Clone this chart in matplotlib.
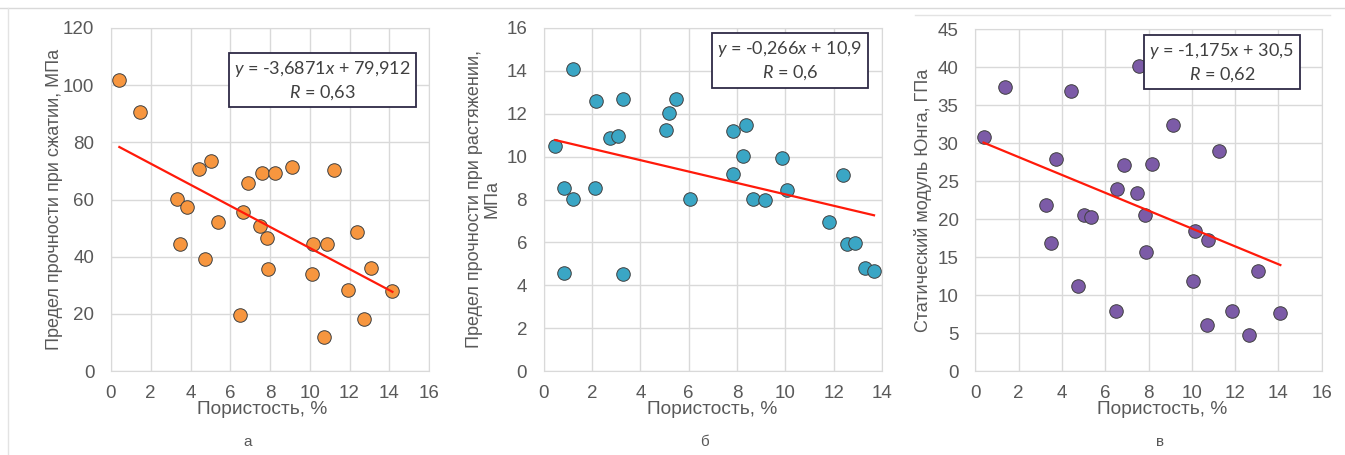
import matplotlib.pyplot as plt
from matplotlib.lines import Line2D
import numpy as np

plt.rcParams['font.family'] = ['Liberation Sans', 'DejaVu Sans']
plt.rcParams['mathtext.fontset'] = 'custom'
plt.rcParams['mathtext.rm'] = 'Lato'
plt.rcParams['mathtext.it'] = 'Lato:italic'

# panel a - compressive strength
x_a = [0.42, 1.46, 3.34, 3.49, 3.84, 4.43, 4.71, 5.05, 5.40, 6.49, 6.64, 6.91, 7.48, 7.60,
       7.84, 7.92, 8.24, 9.11, 10.10, 10.17, 10.74, 10.86, 11.22, 11.91, 12.40, 12.75, 13.10, 14.16]
y_a = [101.8, 90.5, 60.1, 44.4, 57.5, 70.7, 39.2, 73.4, 52.1, 19.7, 55.8, 65.6, 50.9, 69.1,
       46.6, 35.6, 69.1, 71.2, 34.0, 44.4, 12.0, 44.4, 70.2, 28.4, 48.6, 18.1, 36.0, 28.0]

# panel b - tensile strength
x_b = [0.48, 0.85, 0.85, 1.20, 1.20, 2.16, 2.11, 2.73, 3.09, 3.27, 3.27, 5.08, 5.19, 5.48, 6.05,
       7.85, 7.85, 8.24, 8.38, 8.68, 9.15, 9.87, 10.07, 11.81, 12.40, 12.55, 12.90, 13.28, 13.67]
y_b = [10.51, 8.53, 4.59, 14.09, 8.02, 12.58, 8.53, 10.89, 10.97, 12.70, 4.53, 11.25, 12.03, 12.70, 8.02,
       11.18, 9.20, 10.01, 11.47, 8.02, 7.97, 9.93, 8.45, 6.94, 9.12, 5.91, 5.96, 4.79, 4.67]

# panel c - static Young's modulus
x_c = [0.38, 1.37, 3.25, 3.50, 3.72, 4.40, 4.74, 5.02, 5.34, 6.51, 6.56, 6.85, 7.45, 7.55,
       7.82, 7.88, 8.18, 9.12, 10.04, 10.16, 10.75, 10.72, 11.24, 11.84, 12.64, 13.07, 14.09]
y_c = [30.8, 37.4, 21.9, 16.8, 27.9, 36.9, 11.2, 20.5, 20.2, 7.9, 23.9, 27.1, 23.4, 40.1,
       20.5, 15.7, 27.3, 32.4, 11.8, 18.4, 17.2, 6.1, 29.0, 7.9, 4.7, 13.1, 7.6]

# trend coefficients (slope, intercept) as printed
fit_a = (-3.6871, 79.912)
fit_b = (-0.266, 10.9)
fit_c = (-1.175, 30.5)

panels = [
    dict(x=x_a, y=y_a, fit=fit_a, color='#F7963F', xmax=16, xstep=2, ymax=120, ystep=20,
         ylabel='Предел прочности при сжатии, МПа', letter='а',
         eq=r'$\it{y}$ = -3,6871$\it{x}$ + 79,912', r='$\\it{R}$ = 0,63',
         pos=[111, 28, 429, 371], box=(0.665, 0.847), ylc=-0.152, xlc=0.475, lx=248),
    dict(x=x_b, y=y_b, fit=fit_b, color='#3AA6C5', xmax=14, xstep=2, ymax=16, ystep=2,
         ylabel='Предел прочности при растяжении,\nМПа', letter='б',
         eq=r'$\it{y}$ = -0,266$\it{x}$ + 10,9', r='$\\it{R}$ = 0,6',
         pos=[543.7, 28, 882, 371], box=(0.728, 0.904), ylc=-0.128, xlc=0.497, lx=704),
    dict(x=x_c, y=y_c, fit=fit_c, color='#7C5BA7', xmax=16, xstep=2, ymax=45, ystep=5,
         ylabel='Статический модуль Юнга, ГПа', letter='в',
         eq=r'$\it{y}$ = -1,175$\it{x}$ + 30,5', r='$\\it{R}$ = 0,62',
         pos=[975.3, 29, 1321.7, 371], box=(0.712, 0.902), ylc=-0.124, xlc=0.538, lx=1160),
]

W, H = 1345, 455
fig = plt.figure(figsize=(W / 100, H / 100), dpi=100)

# thin frame lines of the page
fig.add_artist(Line2D([0, 1], [1 - 8 / H, 1 - 8 / H], color='#D9D9D9', lw=1))
fig.add_artist(Line2D([8 / W, 8 / W], [0, 1 - 8 / H], color='#E3E3E3', lw=1))
fig.add_artist(Line2D([915 / W, 1330 / W], [1 - 15 / H, 1 - 15 / H], color='#E3E3E3', lw=1))

grey = '#595959'
for p in panels:
    l, t, r, b = p['pos']
    ax = fig.add_axes([l / W, 1 - b / H, (r - l) / W, (b - t) / H])
    ax.set_xlim(0, p['xmax'])
    ax.set_ylim(0, p['ymax'])
    ax.set_xticks(np.arange(0, p['xmax'] + 0.1, p['xstep']))
    ax.set_yticks(np.arange(0, p['ymax'] + 0.1, p['ystep']))
    ax.grid(True, color='#D9D9D9', lw=1)
    ax.set_axisbelow(True)
    for s in ax.spines.values():
        s.set_color('#D9D9D9')
    ax.tick_params(length=0, labelsize=13.5, colors=grey)
    ax.tick_params(axis='x', pad=10)
    ax.tick_params(axis='y', pad=12)

    ax.scatter(p['x'], p['y'], s=95, color=p['color'], edgecolor='#3F3F3F', lw=0.7, zorder=3)
    xs = np.array([min(p['x']), max(p['x'])])
    k, c0 = p['fit']
    ax.plot(xs, k * xs + c0, color='#FF1A0A', lw=1.6, zorder=4)

    ax.set_ylabel(p['ylabel'], fontsize=13, color=grey, linespacing=1.0)
    ax.yaxis.set_label_coords(p['ylc'], 0.5)
    ax.set_xlabel('Пористость, %', fontsize=13.8, color=grey)
    ax.xaxis.set_label_coords(p['xlc'], -0.088)

    ax.text(p['box'][0], p['box'][1], p['eq'] + '\n' + p['r'], transform=ax.transAxes,
            ha='center', va='center', fontsize=13, family='Lato', color='#404040',
            linespacing=1.3, zorder=5,
            bbox=dict(boxstyle='square,pad=0.3', fc='white', ec='#2E2A45', lw=1.3))

    fig.text(p['lx'] / W, 1 - 442 / H, p['letter'], ha='center', va='center',
             fontsize=11, color=grey)

fig.savefig('out.png', dpi=100)
